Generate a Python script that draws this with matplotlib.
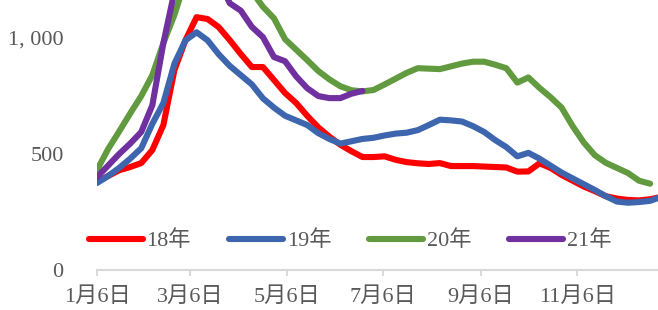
import matplotlib
matplotlib.use("Agg")
from matplotlib import pyplot as plt
from matplotlib.ticker import FuncFormatter
import pandas as pd

plt.rcParams['font.family'] = ['Liberation Serif', 'Noto Sans CJK SC', 'DejaVu Sans']

# weekly observations, first point on 1月6日
s18 = [380, 405, 430, 444, 461, 517, 625, 862, 991, 1090, 1082, 1047, 991, 931, 875, 875,
       819, 763, 720, 665, 615, 575, 540, 512, 487, 487, 490, 475, 465, 460, 457, 461,
       448, 448, 448, 446, 444, 442, 424, 425, 460, 440, 410, 385, 360, 340, 318, 308,
       302, 300, 305, 315]
s19 = [375, 405, 440, 480, 525, 630, 720, 890, 990, 1025, 990, 930, 880, 840, 800, 740,
       700, 665, 645, 625, 590, 565, 545, 555, 565, 570, 580, 588, 592, 603, 625, 648,
       645, 640, 620, 595, 560, 530, 490, 505, 480, 450, 420, 395, 370, 345, 318, 295,
       290, 293, 298, 315]
s20 = [431, 521, 597, 675, 750, 840, 978, 1100, 1250, 1330, 1360, 1340, 1300, 1250, 1200, 1135,
       1085, 995, 950, 905, 858, 822, 792, 775, 770, 776, 800, 825, 850, 870, 868, 866,
       878, 890, 898, 898, 885, 870, 808, 830, 785, 745, 700, 620, 550, 495, 462, 440,
       418, 385, 372]
s21 = [401, 450, 500, 545, 595, 710, 978, 1200, 1350, 1400, 1350, 1250, 1150, 1118, 1048, 1004,
       918, 900, 835, 784, 750, 741, 741, 760, 772]

series_names = ['18年', '19年', '20年', '21年']
series_colors = ['#FF0000', '#3D66AF', '#629B3F', '#7030A0']
tick_dates = ['2021-01-06', '2021-03-06', '2021-05-06', '2021-07-06', '2021-09-06', '2021-11-06']
tick_labels = ['1月6日', '3月6日', '5月6日', '7月6日', '9月6日', '11月6日']

fig = plt.figure(figsize=(6.58, 3.10), dpi=100)
ax = fig.add_axes([97 / 658, 1 - 270 / 310, 1 - 97 / 658, 270 / 310])

for name, vals, color in zip(series_names, [s18, s19, s20, s21], series_colors):
    dates = pd.date_range('2021-01-06', periods=len(vals), freq='7D')
    ax.plot(dates, vals, color=color, lw=4.4, label=name, solid_capstyle='round',
            solid_joinstyle='round')

ax.set_xlim(pd.Timestamp('2021-01-06'), pd.Timestamp('2021-01-06') + pd.Timedelta(days=355))
ax.set_ylim(0, 1164)
ax.set_yticks([0, 500, 1000])
ax.yaxis.set_major_formatter(FuncFormatter(lambda v, p: '{:,}'.format(int(v)).replace(',', ', ')))
ax.set_xticks([pd.Timestamp(d) for d in tick_dates])
ax.set_xticklabels(tick_labels)

for side in ['top', 'right', 'left']:
    ax.spines[side].set_visible(False)
ax.spines['bottom'].set_color('#D9D9D9')
ax.spines['bottom'].set_linewidth(1.5)
ax.tick_params(axis='x', length=4, width=1.5, color='#D9D9D9', pad=8, labelsize=16,
               labelcolor='#595959')
ax.tick_params(axis='y', length=0, pad=24, labelsize=16, labelcolor='#595959')

leg = ax.legend(loc='center', bbox_to_anchor=(350 / 658, 1 - 241 / 310),
                bbox_transform=fig.transFigure, ncol=4, frameon=False, fontsize=16,
                handlelength=2.45, handletextpad=0.15, columnspacing=1.7)
for t in leg.get_texts():
    t.set_color('#595959')
for h in leg.get_lines():
    h.set_solid_capstyle('round')

fig.savefig('out.png', dpi=100)
